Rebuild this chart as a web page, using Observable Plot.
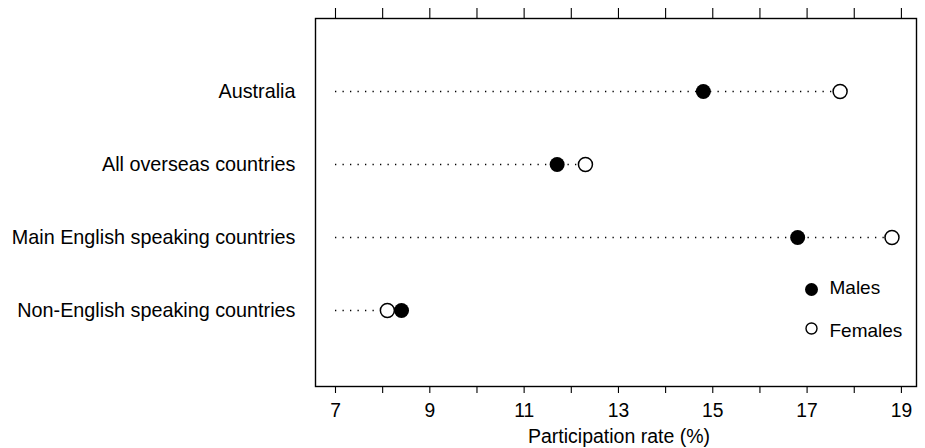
<!DOCTYPE html>
<html>
<head>
<meta charset="utf-8">
<script src="https://cdn.jsdelivr.net/npm/d3@7"></script>
<script src="https://cdn.jsdelivr.net/npm/@observablehq/plot@0.6"></script>
<style>
  html, body { margin: 0; padding: 0; background: white; }
  #chart { width: 925px; height: 448px; }
</style>
</head>
<body>
<div id="chart"></div>
<script>
const categories = ["Australia", "All overseas countries", "Main English speaking countries", "Non-English speaking countries"];
const males = [14.8, 11.7, 16.8, 8.4];
const females = [17.7, 12.3, 18.8, 8.1];
const xTicks = [7, 8, 9, 10, 11, 12, 13, 14, 15, 16, 17, 18, 19];
const xTickLabels = [7, 9, 11, 13, 15, 17, 19];
const xLabel = "Participation rate (%)";
const legendLabels = ["Males", "Females"];

const rows = categories.map((c, i) => ({category: c, males: males[i], females: females[i]}));
const font = "'Liberation Sans', Arial, Helvetica, sans-serif";

const chart = Plot.plot({
  width: 925,
  height: 448,
  marginLeft: 315,
  marginRight: 9,
  marginTop: 18,
  marginBottom: 62,
  style: {fontFamily: font, fontSize: "19px", background: "white", color: "black"},
  x: {domain: [6.576, 19.32]},
  y: {type: "point", domain: categories, padding: 0, insetTop: 73, insetBottom: 76},
  marks: [
    Plot.frame({stroke: "black", strokeWidth: 1.4}),
    Plot.axisX({anchor: "top", ticks: xTicks, tickSize: 11, tickFormat: () => "", label: null, strokeWidth: 1.1}),
    Plot.axisX({anchor: "bottom", ticks: xTicks, tickSize: 7, tickPadding: 10, fontSize: 19.3,
      tickFormat: d => xTickLabels.includes(d) ? String(d) : "", label: null, strokeWidth: 1.1}),
    Plot.axisY({tickSize: 0, tickPadding: 20, label: null, fontSize: 19.8}),
    Plot.ruleY(rows, {y: "category", x1: xTicks[0], x2: d => Math.max(d.males, d.females),
      stroke: "black", strokeWidth: 1.3, strokeDasharray: "1.3,6.2"}),
    Plot.dot(rows, {x: "females", y: "category", r: 7, fill: "white", stroke: "black", strokeWidth: 1.5}),
    Plot.dot(rows, {x: "males", y: "category", r: 7.5, fill: "black", stroke: "none"}),
    // legend
    Plot.dot([legendLabels[0]], {frameAnchor: "bottom-right", dx: -105, dy: -97, r: 6.5, fill: "black", stroke: "none"}),
    Plot.dot([legendLabels[1]], {frameAnchor: "bottom-right", dx: -105, dy: -58, r: 5.5, fill: "white", stroke: "black", strokeWidth: 1.4}),
    Plot.text([legendLabels[0]], {text: d => d, frameAnchor: "bottom-right", dx: -87, dy: -93, textAnchor: "start", fontSize: 19, fill: "black"}),
    Plot.text([legendLabels[1]], {text: d => d, frameAnchor: "bottom-right", dx: -87, dy: -50, textAnchor: "start", fontSize: 19, fill: "black"}),
    // x label
    Plot.text([xLabel], {text: d => d, frameAnchor: "bottom", dx: 3, dy: 56, textAnchor: "middle", fontSize: 19.5, fill: "black"})
  ]
});
document.getElementById("chart").appendChild(chart);
</script>
</body>
</html>
